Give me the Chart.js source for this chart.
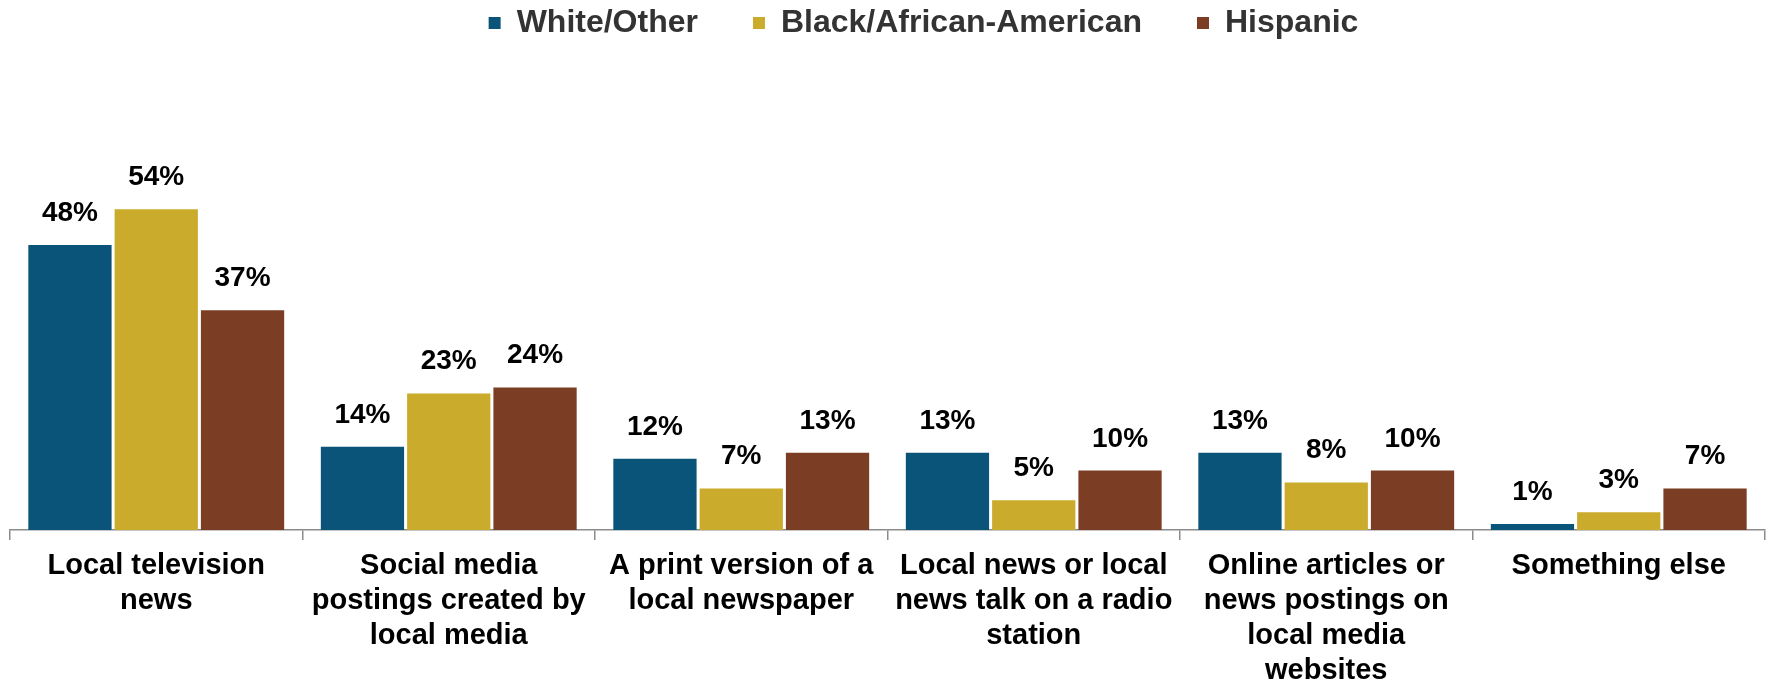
<!DOCTYPE html>
<html>
<head>
<meta charset="utf-8">
<script src="https://cdn.jsdelivr.net/npm/chart.js@4/dist/chart.umd.min.js"></script>
<style>
  html, body { margin: 0; padding: 0; background: #fff; }
  #wrap { width: 1766px; height: 684px; position: relative; }
</style>
</head>
<body>
<div id="wrap"><canvas id="newsChart"></canvas></div>
<script>
// --- Data ---
const categories = [
    ['Local television', 'news'],
    ['Social media', 'postings created by', 'local media'],
    ['A print version of a', 'local newspaper'],
    ['Local news or local', 'news talk on a radio', 'station'],
    ['Online articles or', 'news postings on', 'local media', 'websites'],
    ['Something else']
];
const seriesNames = ['White/Other', 'Black/African-American', 'Hispanic'];
const whiteOther = [48, 14, 12, 13, 13, 1];
const blackAfricanAmerican = [54, 23, 7, 5, 8, 3];
const hispanic = [37, 24, 13, 10, 10, 7];

const colors = ['#0b5479', '#cbab2c', '#7b3d23'];
const FONT = "'Liberation Sans', Arial, sans-serif";

// --- Plugins ---
// value labels above each bar
const barLabels = {
    id: 'barLabels',
    afterDatasetsDraw(chart) {
        const c = chart.ctx;
        c.save();
        c.font = `bold 28px ${FONT}`;
        c.fillStyle = '#000';
        c.textAlign = 'center';
        c.textBaseline = 'alphabetic';
        chart.data.datasets.forEach((ds, i) => {
            chart.getDatasetMeta(i).data.forEach((bar, j) => {
                c.fillText(ds.data[j] + '%', bar.x, bar.y - 24);
            });
        });
        c.restore();
    }
};

// nudge legend to the right like the original
const legendShift = {
    id: 'legendShift',
    afterLayout(chart) {
        if (chart.legend) {
            chart.legend.left += 36;
            chart.legend.right += 36;
        }
    }
};

const ctx = document.getElementById('newsChart').getContext('2d');
const newsChart = new Chart(ctx, {
    type: 'bar',
    data: {
        labels: categories,
        datasets: [whiteOther, blackAfricanAmerican, hispanic].map((vals, i) => ({
            label: seriesNames[i],
            data: vals,
            backgroundColor: colors[i],
            borderWidth: 0,
            categoryPercentage: 0.885,
            barPercentage: 0.965
        }))
    },
    options: {
        responsive: true,
        maintainAspectRatio: false,
        animation: false,
        layout: { padding: { top: -48, left: 10, right: 1, bottom: 0 } },
        scales: {
            x: {
                grid: {
                    offset: true,
                    drawOnChartArea: false,
                    drawTicks: true,
                    tickLength: 10,
                    color: '#8c8c8c',
                    lineWidth: 1.5
                },
                border: { display: true, color: '#8c8c8c', width: 1.5 },
                ticks: {
                    color: '#000',
                    padding: 9,
                    autoSkip: false,
                    maxRotation: 0,
                    font: { family: FONT, size: 29, weight: 'bold', lineHeight: 1.2 }
                },
                afterFit(scale) { scale.height = 154; }
            },
            y: {
                display: false,
                min: 0,
                max: 81
            }
        },
        plugins: {
            legend: {
                position: 'top',
                labels: {
                    boxWidth: 12,
                    boxHeight: 12,
                    padding: 55,
                    color: '#333',
                    font: { family: FONT, size: 32, weight: 'bold' }
                }
            },
            tooltip: { enabled: false }
        }
    },
    plugins: [barLabels, legendShift]
});
</script>
</body>
</html>
